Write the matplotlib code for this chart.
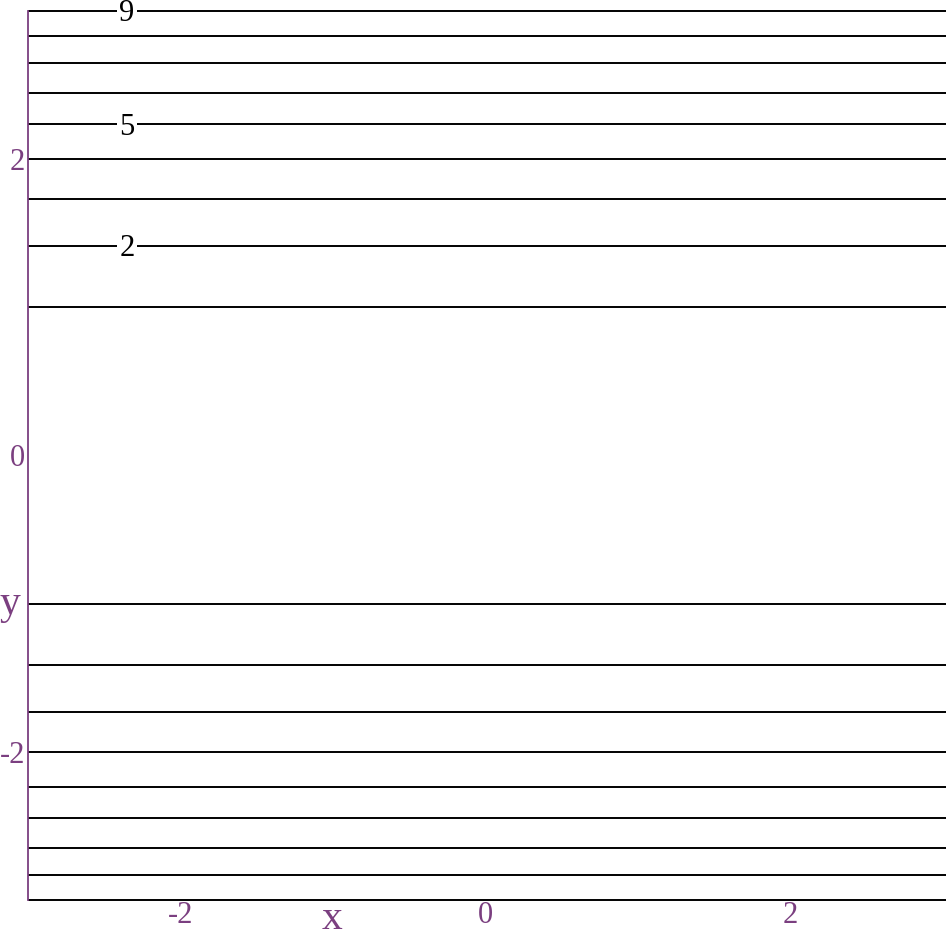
import numpy as np
import matplotlib.pyplot as plt

# contour levels of z = y^2, and which ones carry a label
levels = [1, 2, 3, 4, 5, 6, 7, 8, 9]
labeled_levels = [2, 5, 9]
label_x = -2.35
x_ticks = [-2, 0, 2]
y_ticks = [-2, 0, 2]

purple = "#7b3f80"

plt.rcParams["font.family"] = ["Liberation Serif", "DejaVu Serif"]
plt.rcParams["axes.unicode_minus"] = False

xs = np.linspace(-3, 3.02, 61)
ys = np.linspace(-3.1, 3.1, 621)
X, Y = np.meshgrid(xs, ys)
Z = Y ** 2

fig = plt.figure(figsize=(9.46, 9.39), dpi=100)
ax = fig.add_axes([28 / 946, 39 / 939, 918 / 946, 889 / 939])

plain = [v for v in levels if v not in labeled_levels]
cs_plain = ax.contour(X, Y, Z, levels=plain, colors="black", linewidths=1.4)
cs = ax.contour(X, Y, Z, levels=labeled_levels, colors="black", linewidths=1.4)
ax.clabel(
    cs,
    fmt="%d",
    fontsize=22,
    inline_spacing=2,
    manual=[(label_x, np.sqrt(v)) for v in labeled_levels],
)
for t in cs.labelTexts:
    t.set_clip_on(False)
    x0, y0 = t.get_position()
    t.set_position((x0, y0 - 0.02))

ax.set_xlim(-3, 3.02)
ax.set_ylim(-3, 3)
cs.set_clip_on(False)
cs_plain.set_clip_on(False)

ax.set_xticks(x_ticks)
ax.set_yticks(y_ticks)
ax.tick_params(length=0, colors=purple, labelsize=22)
ax.tick_params(axis="x", pad=1)
ax.tick_params(axis="y", pad=2)

for side in ["top", "right", "bottom"]:
    ax.spines[side].set_visible(False)
ax.spines["left"].set_color(purple)
ax.spines["left"].set_linewidth(1.3)

ax.set_xlabel("x", color=purple, fontsize=30)
ax.set_ylabel("y", color=purple, fontsize=30, rotation=0)
ax.xaxis.set_label_coords(0.331, -0.0428)
ax.yaxis.set_label_coords(-0.0196, 0.333)
ax.xaxis.label.set_va("bottom")
ax.yaxis.label.set_va("center")
ax.yaxis.label.set_ha("center")

fig.savefig("out.png", dpi=100)
